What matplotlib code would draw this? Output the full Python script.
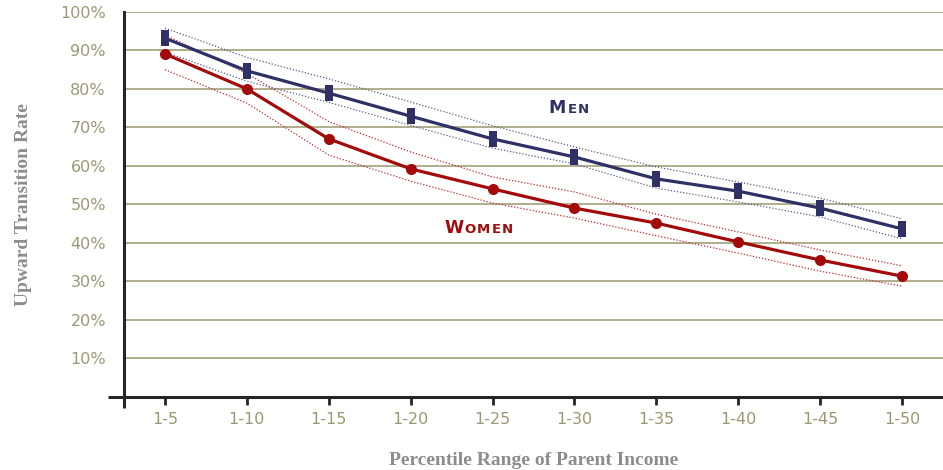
import matplotlib.pyplot as plt
from matplotlib.offsetbox import TextArea, HPacker, AnnotationBbox

# Data (percent)
categories = ["1-5", "1-10", "1-15", "1-20", "1-25", "1-30", "1-35", "1-40", "1-45", "1-50"]
men = [93.2, 84.7, 78.9, 72.9, 67.0, 62.3, 56.6, 53.4, 49.0, 43.6]
men_upper = [95.8, 88.2, 82.6, 76.6, 70.4, 64.9, 59.7, 55.8, 51.6, 46.2]
men_lower = [89.6, 82.0, 76.5, 70.5, 64.6, 60.5, 54.2, 50.6, 46.7, 41.0]
women = [89.1, 80.0, 67.0, 59.2, 54.0, 49.0, 45.1, 40.2, 35.5, 31.3]
women_upper = [94.0, 84.0, 71.5, 63.6, 57.1, 53.2, 47.4, 42.8, 38.1, 34.0]
women_lower = [85.0, 76.3, 62.8, 56.0, 50.3, 46.4, 41.8, 37.3, 32.6, 28.7]
yticks = [10, 20, 30, 40, 50, 60, 70, 80, 90, 100]

# Styles
navy = "#2e3066"
red = "#a30a0a"
olive = "#9c9874"
grid_c = "#aaa784"
label_c = "#8c8c8c"
axis_c = "#262626"

fig = plt.figure(figsize=(9.43, 4.70), dpi=100)
ax = fig.add_axes([124/943, 73.5/470, 819/943, 384.5/470])

x = list(range(len(categories)))

# grid
for v in yticks:
    ax.axhline(v, color=grid_c, lw=1.3, zorder=0)

# confidence bands
ax.plot(x, men_upper, color="#5a5c8e", lw=0.9, ls=(0, (1, 1.5)), zorder=2)
ax.plot(x, men_lower, color="#5a5c8e", lw=0.9, ls=(0, (1, 1.5)), zorder=2)
ax.plot(x, women_upper, color="#c42a2a", lw=0.9, ls=(0, (1, 1.5)), zorder=2)
ax.plot(x, women_lower, color="#c42a2a", lw=0.9, ls=(0, (1, 1.5)), zorder=2)

# main series
rect = [(-0.27, -0.5), (0.27, -0.5), (0.27, 0.5), (-0.27, 0.5), (-0.27, -0.5)]
ax.plot(x, men, color=navy, lw=2.3, marker=rect, ms=11, mfc=navy, mew=0, zorder=4)
ax.plot(x, women, color=red, lw=2.3, marker="o", ms=8, mfc=red, mew=0, zorder=4)

ax.set_xlim(-0.5, 9.5)
ax.set_ylim(0, 100)
ax.set_xticks(x)
ax.set_xticklabels(categories)
ax.set_yticks(yticks)
ax.set_yticklabels([f"{v}%" for v in yticks])

for s in ["top", "right"]:
    ax.spines[s].set_visible(False)
ax.spines["left"].set_color(axis_c)
ax.spines["left"].set_linewidth(2.2)
ax.spines["bottom"].set_color(axis_c)
ax.spines["bottom"].set_linewidth(2.2)

# axis extensions below/left of origin
ax.plot([-0.0195, 0], [0, 0], transform=ax.transAxes, color=axis_c, lw=2.2,
        clip_on=False, solid_capstyle="butt")
ax.plot([0, 0], [-0.031, 0], transform=ax.transAxes, color=axis_c, lw=2.2,
        clip_on=False, solid_capstyle="butt")

ax.tick_params(axis="x", length=6, width=2, color=axis_c, direction="out",
               labelsize=11.5, labelcolor=olive, pad=5)
ax.tick_params(axis="y", length=0, labelsize=11.5, labelcolor=olive, pad=13)

ax.set_ylabel("Upward Transition Rate", family="Liberation Serif", fontweight="bold",
              fontsize=14, color=label_c, labelpad=20)
ax.set_xlabel("Percentile Range of Parent Income", family="Liberation Serif",
              fontweight="bold", fontsize=14, color=label_c, labelpad=18)


def small_caps(word, color, big, small):
    parts = [TextArea(word[0], textprops=dict(color=color, fontsize=big, fontweight="bold"))]
    for ch in word[1:]:
        parts.append(TextArea(ch.upper(), textprops=dict(color=color, fontsize=small,
                                                         fontweight="bold")))
    return HPacker(children=parts, align="baseline", pad=0, sep=0.8)


for word, color, xy in [("Men", navy, (4.93, 75.0)), ("Women", red, (3.83, 43.8))]:
    ab = AnnotationBbox(small_caps(word, color, 12.5, 9.5), xy, frameon=False,
                        box_alignment=(0.5, 0.5), zorder=5)
    ax.add_artist(ab)

fig.savefig("out.png", dpi=100, facecolor="white")
